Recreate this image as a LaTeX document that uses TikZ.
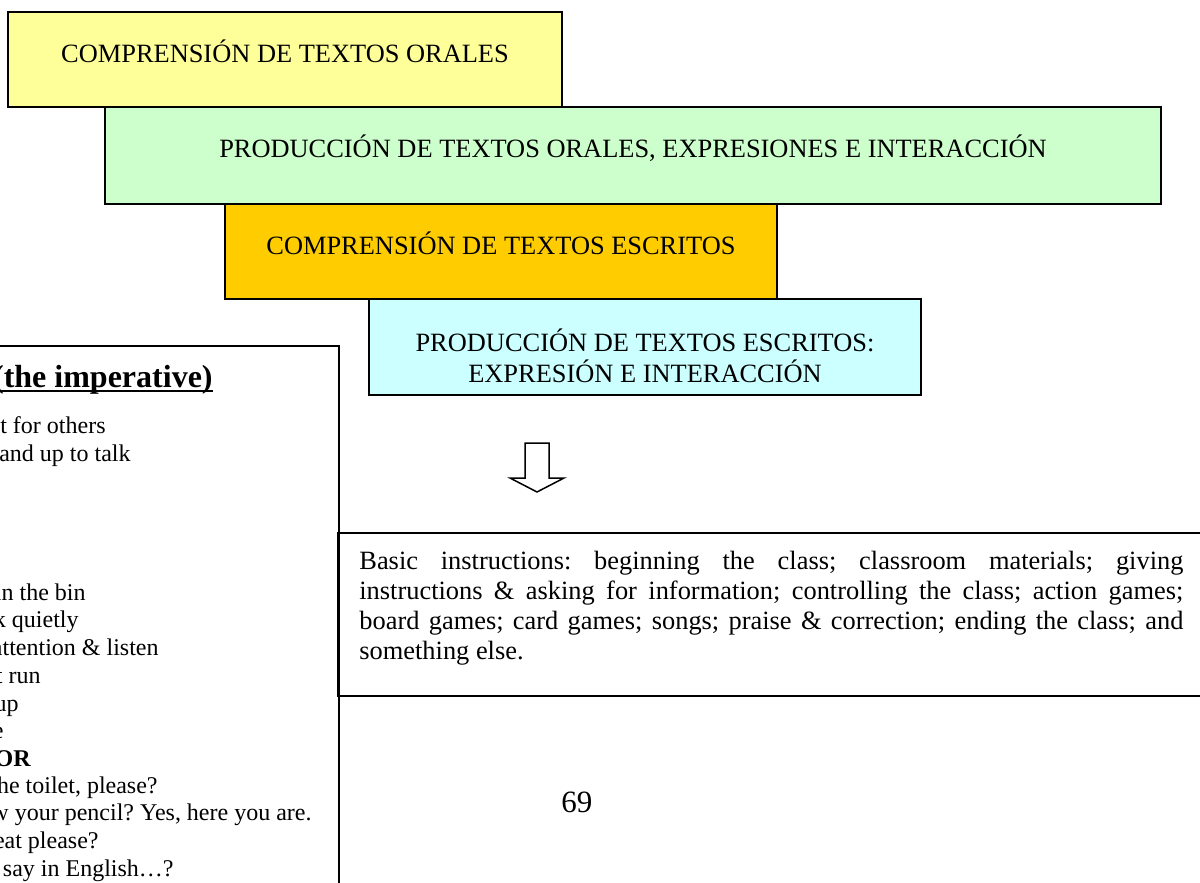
\documentclass[tikz,border=0pt]{standalone}
\usepackage{fontspec}
\setmainfont{Liberation Serif}
\frenchspacing
\definecolor{boxyellow}{HTML}{FFFF99}
\definecolor{boxgreen}{HTML}{CCFFCC}
\definecolor{boxorange}{HTML}{FFCC00}
\definecolor{boxcyan}{HTML}{CCFFFF}
\tikzset{
  boxline/.style={draw=black, line width=1pt},
  hdr/.style={inner sep=0pt, anchor=base, font=\fontsize{13.2}{15.2}\selectfont},
  lft/.style={inner sep=0pt, anchor=base east, font=\fontsize{12}{13.8}\selectfont},
  bodyline/.style={inner sep=0pt, anchor=base west, font=\fontsize{13.2}{15}\selectfont},
  hollowarrow/.style={draw=black, fill=white, line width=0.75pt, line join=miter},
}
\begin{document}
\frenchspacing
\begin{tikzpicture}[x=0.5pt,y=-0.5pt]
\useasboundingbox (0,0) rectangle (1200,883);
\clip (0,0) rectangle (1200,883);
\fill[white] (0,0) rectangle (1200,883);

% stacked coloured boxes
\draw[boxline, fill=boxyellow] (8,12) rectangle (562,107);
\node[hdr] (t1) at (285,63) {COMPRENSIÓN DE TEXTOS ORALES};
\draw[boxline, fill=boxgreen] (105,107) rectangle (1161,204);
\node[hdr] (t2) at (633,158) {PRODUCCIÓN DE TEXTOS ORALES, EXPRESIONES E INTERACCIÓN};
\draw[boxline, fill=boxorange] (225,204) rectangle (777,299);
\node[hdr] (t3) at (501,254) {COMPRENSIÓN DE TEXTOS ESCRITOS};
\draw[boxline, fill=boxcyan] (369,299) rectangle (921,395);
\node[hdr] (t4a) at (645,351) {PRODUCCIÓN DE TEXTOS ESCRITOS:};
\node[hdr] (t4b) at (645,382) {EXPRESIÓN E INTERACCIÓN};

% left (cut) box
\draw[boxline] (-20,346) rectangle (339,920);
\node[inner sep=0pt, anchor=base east, font=\fontsize{16}{18}\selectfont\bfseries] (title) at (213,387) {(the imperative)};
\draw[line width=1pt] ([yshift=-2.2pt]title.base west) -- ([yshift=-2.2pt]title.base east);
\node[lft] (l1) at (106,433) {t for others};
\node[lft] (l2) at (131,461) {and up to talk};
\node[lft] (l3) at (86,600) {in the bin};
\node[lft] (l4) at (79,627) {k quietly};
\node[lft] (l5) at (159,655) {attention \& listen};
\node[lft] (l6) at (41,683) {t run};
\node[lft] (l7) at (19,711) {up};
\node[lft] (l8) at (4,738) {e};
\node[lft, font=\fontsize{12}{13.8}\selectfont\bfseries] (l9) at (31,766) {OR};
\node[lft] (l10) at (158,793) {he toilet, please?};
\node[lft] (l11) at (312,820) {w your pencil? Yes, here you are.};
\node[lft] (l12) at (99,848) {eat please?};
\node[lft] (l13) at (174,876) {say in English…?};

% hollow down arrow
\draw[hollowarrow] (525,443) -- (549,443) -- (549,478) -- (564,478) -- (537,492) -- (510,478) -- (525,478) -- cycle;

% bottom box
\draw[boxline] (338,533) rectangle (1220,696);
\node[bodyline] (b1) at (359,569) {\makebox[412pt][s]{Basic instructions: beginning the class; classroom materials; giving}};
\node[bodyline] (b2) at (359,599) {\makebox[412pt][s]{instructions \& asking for information; controlling the class; action games;}};
\node[bodyline] (b3) at (359,629) {\makebox[412pt][s]{board games; card games; songs; praise \& correction; ending the class; and}};
\node[bodyline] (b4) at (359,659) {something else.};

% page number
\node[inner sep=0pt, anchor=base west, font=\fontsize{15.5}{17}\selectfont] (pnum) at (561,812) {69};
\end{tikzpicture}
\end{document}
